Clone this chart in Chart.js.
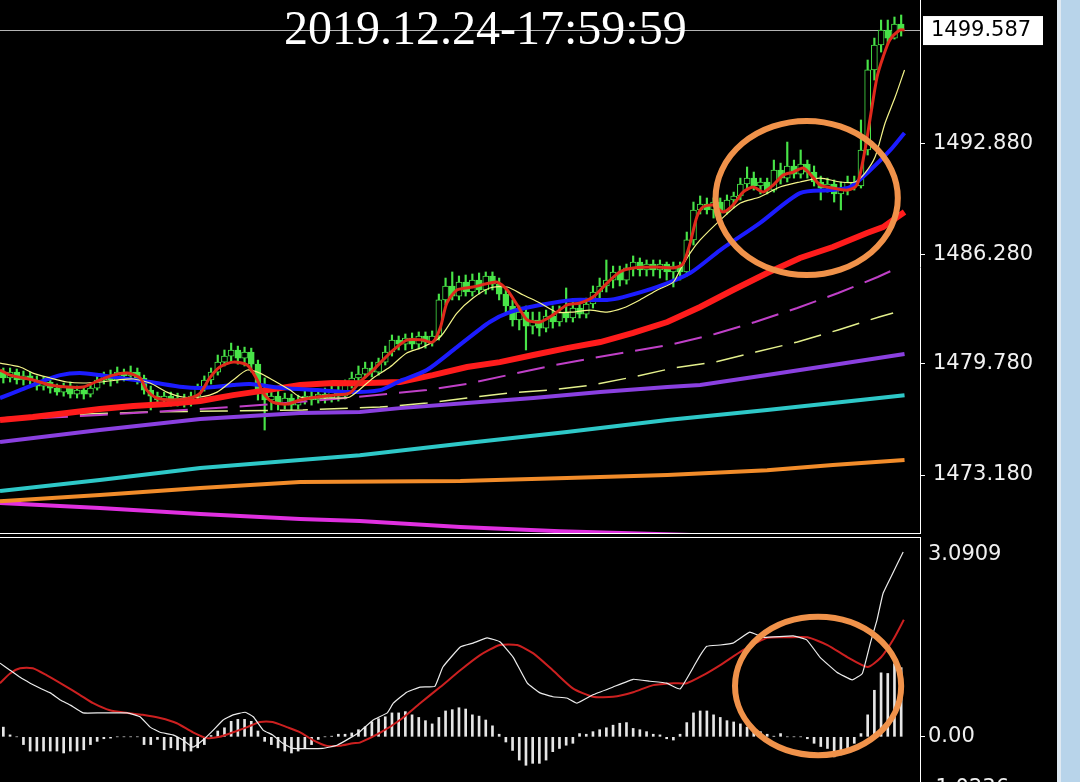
<!DOCTYPE html>
<html>
<head>
<meta charset="utf-8">
<script src="https://cdn.jsdelivr.net/npm/chart.js@4.4.1/dist/chart.umd.min.js"></script>
<style>
html, body { margin:0; padding:0; background:#000; width:1080px; height:782px; overflow:hidden; }
#top { position:absolute; left:0; top:0; }
#bottom { position:absolute; left:0; top:537px; }
#scroll { position:absolute; left:1057px; top:0; width:23px; height:782px; background:#b8d4ea; border-left:4px solid #dfe9f2; box-sizing:border-box; }
</style>
</head>
<body>
<canvas id="top" width="1057" height="534"></canvas>
<canvas id="bottom" width="1057" height="266"></canvas>
<div id="scroll"></div>
<script>
var titleText = '2019.12.24-17:59:59';
var priceTicks = [1473.18, 1479.78, 1486.28, 1492.88];
var macdTicks = [3.0909, 0, -1.0236];

// candles, one per bar (bar index 0..134)
var opens = [1479.29,1478.94,1479.29,1478.82,1479.06,1478.82,1478.46,1478.70,1478.34,1478.10,
  1478.46,1477.98,1478.22,1477.98,1478.34,1478.82,1479.06,1478.82,1479.29,1479.06,
  1479.29,1478.94,1478.22,1477.86,1477.63,1477.86,1477.51,1477.75,1477.45,1477.86,
  1478.34,1478.82,1479.29,1479.88,1480.24,1480.60,1480.12,1480.48,1479.76,1478.10,
  1477.63,1477.86,1477.39,1477.75,1477.33,1477.63,1477.86,1477.63,1477.98,1477.75,
  1478.10,1477.86,1478.52,1478.94,1479.17,1479.53,1479.29,1479.88,1480.48,1481.19,
  1480.95,1481.31,1480.95,1481.43,1481.07,1481.43,1483.57,1484.40,1483.80,1484.63,
  1484.04,1484.75,1484.16,1484.99,1484.51,1483.92,1483.21,1482.38,1482.85,1482.02,
  1482.38,1481.90,1482.61,1482.26,1482.85,1482.50,1483.09,1482.73,1483.33,1484.04,
  1484.40,1484.75,1485.23,1484.75,1485.47,1485.82,1485.35,1485.70,1485.35,1485.70,
  1485.23,1485.58,1485.23,1487.13,1488.91,1489.26,1488.91,1489.38,1488.79,1489.50,
  1489.74,1490.45,1490.80,1490.33,1490.57,1490.09,1491.28,1490.80,1491.52,1491.04,
  1491.63,1491.16,1490.57,1490.21,1490.45,1489.86,1490.21,1490.57,1490.33,1492.47,
  1497.22,1498.70,1499.59,1499.11,1499.94];
var closes = [1478.94,1479.29,1478.82,1479.06,1478.82,1478.46,1478.70,1478.34,1478.10,1478.46,
  1477.98,1478.22,1477.98,1478.34,1478.82,1479.06,1478.82,1479.29,1479.06,1479.29,
  1478.94,1478.22,1477.86,1477.63,1477.86,1477.51,1477.75,1477.45,1477.86,1478.34,
  1478.82,1479.29,1479.88,1480.24,1480.60,1480.12,1480.48,1479.76,1478.10,1477.63,
  1477.86,1477.39,1477.75,1477.33,1477.63,1477.86,1477.63,1477.98,1477.75,1478.10,
  1477.86,1478.52,1478.94,1479.17,1479.53,1479.29,1479.88,1480.48,1481.19,1480.95,
  1481.31,1480.95,1481.43,1481.07,1481.43,1483.57,1484.40,1483.80,1484.63,1484.04,
  1484.75,1484.16,1484.99,1484.51,1483.92,1483.21,1482.38,1482.85,1482.02,1482.38,
  1481.90,1482.61,1482.26,1482.85,1482.50,1483.09,1482.73,1483.33,1484.04,1484.40,
  1484.75,1485.23,1484.75,1485.47,1485.82,1485.35,1485.70,1485.35,1485.70,1485.23,
  1485.58,1485.23,1487.13,1488.91,1489.26,1488.91,1489.38,1488.79,1489.50,1489.74,
  1490.45,1490.80,1490.33,1490.57,1490.09,1491.28,1490.80,1491.52,1491.04,1491.63,
  1491.16,1490.57,1490.21,1490.45,1489.86,1490.21,1490.57,1490.33,1492.47,1497.22,
  1498.70,1499.59,1499.11,1499.94,1499.587];
var highs = [1479.53,1479.53,1479.47,1479.35,1479.29,1479.06,1479.00,1478.88,1478.58,1478.64,
  1478.70,1478.46,1478.40,1478.52,1479.06,1479.29,1479.41,1479.59,1479.47,1479.65,
  1479.53,1479.11,1478.46,1478.10,1478.10,1478.10,1478.04,1477.98,1478.10,1478.58,
  1479.06,1479.53,1480.30,1480.60,1481.01,1480.83,1480.77,1480.71,1480.00,1478.94,
  1478.22,1478.16,1478.04,1477.98,1477.92,1478.22,1478.22,1478.28,1478.34,1478.46,
  1478.46,1478.82,1479.29,1479.65,1479.88,1479.88,1480.12,1480.83,1481.49,1481.43,
  1481.55,1481.61,1481.67,1481.67,1481.73,1483.92,1484.87,1485.23,1484.99,1485.05,
  1485.11,1485.17,1485.23,1485.23,1484.87,1484.28,1483.57,1483.21,1483.21,1482.85,
  1482.85,1482.97,1483.21,1483.21,1484.28,1483.45,1483.45,1483.68,1484.40,1484.87,
  1485.94,1485.58,1485.58,1485.70,1486.18,1486.06,1485.94,1485.94,1485.94,1485.82,
  1485.82,1485.82,1487.60,1489.38,1489.74,1489.62,1489.62,1489.62,1489.80,1489.97,
  1490.80,1491.46,1491.16,1490.80,1490.80,1491.87,1491.69,1492.94,1491.87,1492.47,
  1491.87,1491.52,1490.92,1490.80,1490.69,1490.57,1490.92,1490.92,1494.25,1497.81,
  1499.11,1500.18,1500.18,1500.36,1500.48];
var lows = [1478.64,1478.70,1478.58,1478.52,1478.58,1478.22,1478.22,1478.04,1477.92,1477.86,
  1477.75,1477.75,1477.69,1477.81,1478.22,1478.58,1478.46,1478.64,1478.76,1478.82,
  1478.58,1477.98,1477.04,1477.39,1477.39,1477.27,1477.27,1477.21,1477.27,1477.69,
  1478.16,1478.58,1479.11,1479.65,1479.88,1479.76,1479.65,1479.29,1477.63,1475.85,
  1477.04,1477.04,1477.10,1477.04,1477.10,1477.39,1477.33,1477.45,1477.45,1477.51,
  1477.57,1477.69,1478.34,1478.70,1478.94,1479.00,1479.11,1479.71,1480.24,1480.60,
  1480.60,1480.66,1480.66,1480.71,1480.83,1481.19,1483.27,1483.57,1483.57,1483.80,
  1483.80,1483.92,1483.92,1484.16,1483.57,1482.85,1482.02,1481.79,1480.60,1481.55,
  1481.43,1481.67,1481.90,1482.02,1482.26,1482.26,1482.50,1482.50,1483.09,1483.57,
  1484.04,1484.28,1484.40,1484.51,1484.99,1484.99,1484.99,1484.99,1484.87,1484.75,
  1484.34,1484.75,1484.99,1486.83,1488.67,1488.67,1488.43,1488.43,1488.67,1489.03,
  1489.50,1490.09,1490.09,1489.86,1489.86,1489.97,1490.45,1490.57,1490.80,1490.80,
  1490.80,1490.33,1489.50,1489.97,1489.38,1488.91,1489.80,1490.09,1490.21,1492.17,
  1496.62,1498.28,1498.76,1499.05,1499.23];

// moving averages as [bar index, price]
var fastRedMA = [[-0.5,1479.41],[1,1479.11],[4.4,1478.82],[7,1478.52],[9.5,1478.40],[11.9,1478.40],[14.4,1478.82],[16.4,1479.11],[18.5,1479.23],[20.4,1478.94],[21.4,1478.22],[22.9,1477.75],[25.3,1477.63],[27.9,1477.75],[29.4,1478.04],[30.8,1478.94],[32.3,1479.59],[34.3,1479.88],[36.4,1479.71],[37.9,1478.82],[38.8,1478.04],[40.2,1477.51],[42.3,1477.39],[44.3,1477.63],[46.8,1477.81],[49.2,1477.92],[51.7,1478.04],[53.2,1478.70],[55.2,1479.41],[57.7,1480.42],[60.2,1481.19],[62.6,1481.19],[64.1,1481.07],[65.2,1481.90],[66.2,1483.39],[67.7,1484.16],[70.1,1484.34],[72.6,1484.57],[73.7,1484.63],[75.2,1484.16],[76.7,1483.27],[78.2,1482.38],[80.1,1482.26],[82,1482.67],[84.1,1483.27],[86.1,1483.39],[88,1483.74],[90.1,1484.57],[92,1485.23],[94,1485.47],[97.6,1485.52],[100,1485.47],[101.4,1485.70],[102.5,1486.94],[103.5,1488.49],[104.4,1489.08],[105.9,1489.20],[107.4,1488.79],[108.9,1489.20],[110.4,1489.97],[111.9,1490.27],[113.4,1489.97],[114.9,1490.39],[116.4,1490.98],[117.9,1491.16],[119.4,1491.40],[120.8,1490.86],[121.9,1490.39],[123.8,1490.21],[126,1490.09],[127.4,1490.39],[128.6,1492.47],[129.4,1494.42],[130.4,1496.80],[131.3,1497.99],[132.3,1499.00],[133.8,1499.59],[134.5,1499.59]];
var yellowMA = [[-0.5,1479.82],[2.5,1479.59],[4.4,1479.23],[7,1478.94],[9.5,1478.70],[11.9,1478.64],[14.4,1478.70],[17,1478.82],[19.4,1478.88],[21.9,1478.64],[24.4,1478.10],[26.8,1477.81],[29.4,1477.81],[31.9,1478.10],[34.3,1478.82],[36.4,1479.41],[38.3,1479.23],[40.2,1478.82],[42.8,1478.22],[44.3,1477.81],[46.8,1477.75],[49.2,1477.75],[51.7,1477.81],[55.2,1478.94],[57.7,1479.59],[60.2,1480.42],[62.6,1480.77],[65.2,1481.37],[67.7,1482.79],[70.1,1483.68],[72.6,1484.28],[75.2,1484.34],[77.6,1483.86],[80.1,1483.39],[82.6,1482.85],[85,1482.85],[87.6,1482.97],[90.1,1482.85],[92.5,1483.09],[95,1483.57],[97.6,1484.16],[100,1484.63],[101,1485.35],[102.5,1486.35],[104,1487.13],[107,1488.31],[110,1489.32],[112.9,1489.68],[115.9,1490.27],[118.9,1490.57],[121.9,1490.80],[124.9,1490.57],[127.1,1490.57],[128.6,1491.10],[130.1,1492.05],[131.6,1494.07],[133.1,1495.61],[134.5,1497.22]];
var blueMA = [[-0.5,1477.75],[2.5,1478.22],[5.5,1478.70],[8.5,1479.11],[11.4,1479.23],[14.4,1479.11],[17.4,1478.94],[21.9,1478.70],[26.8,1478.40],[29.4,1478.34],[34.3,1478.52],[36.8,1478.58],[41.7,1478.34],[46.8,1478.22],[51.7,1478.10],[56.2,1478.22],[59.2,1478.76],[63.2,1479.41],[67.7,1480.77],[72.6,1482.26],[75.6,1482.85],[80.1,1483.27],[85,1483.57],[90.1,1483.57],[92.5,1483.74],[97.6,1484.34],[102.5,1485.17],[107,1486.53],[112.9,1488.13],[118.9,1489.91],[123.4,1490.09],[126.4,1490.27],[129.4,1491.28],[132.4,1492.47],[134.5,1493.48]];
var redSlowMA = [[-0.5,1476.44],[4.4,1476.62],[9.5,1476.86],[14.4,1477.10],[19.4,1477.27],[24.4,1477.39],[29.4,1477.57],[34.3,1477.92],[39.4,1478.22],[44.3,1478.52],[49.2,1478.64],[53.2,1478.62],[59.2,1478.70],[64.1,1479.11],[69.2,1479.59],[74.1,1479.88],[79.1,1480.30],[84.1,1480.71],[89.1,1481.07],[94,1481.61],[99.1,1482.26],[104,1483.15],[108.9,1484.16],[114,1485.17],[118.9,1486.06],[123.8,1486.71],[128.9,1487.54],[131.3,1487.89],[134.5,1488.79]];
var magentaDashMA = [[-0.5,1476.44],[14.4,1476.74],[29.4,1477.10],[38.3,1477.33],[51,1477.75],[63.2,1478.22],[69.2,1478.58],[75.3,1479.11],[81.6,1479.65],[87.9,1480.12],[94,1480.54],[100,1480.95],[106.2,1481.55],[112.2,1482.26],[118.5,1483.09],[124.6,1483.98],[130.5,1484.93],[132.8,1485.35]];
var paleDashMA = [[-0.5,1476.56],[7.7,1476.74],[21.4,1476.92],[32.8,1476.98],[44.7,1477.04],[56.2,1477.21],[63.2,1477.45],[69.2,1477.75],[75.3,1478.04],[81.6,1478.22],[87.9,1478.52],[94,1479.00],[100,1479.53],[106.2,1479.88],[112.3,1480.48],[118.5,1481.07],[124.6,1481.79],[130.7,1482.56],[132.8,1482.79]];
var purpleMA = [[-0.5,1475.14],[14.4,1475.85],[29.4,1476.50],[44.3,1476.86],[53.2,1476.92],[59.2,1477.15],[69.2,1477.45],[79.1,1477.75],[89.1,1478.10],[99.1,1478.40],[104,1478.52],[114,1479.11],[123.8,1479.71],[134.5,1480.36]];
var cyanMA = [[-0.5,1472.23],[14.4,1472.88],[29.4,1473.59],[44.3,1474.07],[53.2,1474.36],[69.2,1475.08],[84.1,1475.73],[99.1,1476.44],[114,1477.04],[123.8,1477.45],[134.5,1477.92]];
var orangeMA = [[-0.5,1471.63],[14.4,1471.99],[29.4,1472.41],[44.3,1472.76],[68.2,1472.82],[84.1,1473.00],[99.1,1473.18],[114,1473.47],[123.8,1473.77],[134.5,1474.07]];
var magentaMA = [[-0.5,1471.52],[14.4,1471.22],[29.4,1470.86],[44.3,1470.57],[53.2,1470.45],[68.2,1470.09],[83.1,1469.85],[104,1469.60]];

// MACD panel
var histVals = [0.15,0.03,0.00,-0.12,-0.22,-0.22,-0.22,-0.22,-0.22,-0.25,
  -0.22,-0.22,-0.20,-0.12,-0.07,-0.03,-0.02,0.00,0.00,0.00,
  0.00,-0.12,-0.12,-0.04,-0.20,-0.17,-0.20,-0.22,-0.22,-0.17,
  -0.12,0.02,0.09,0.14,0.24,0.27,0.27,0.24,0.09,-0.07,
  -0.12,-0.17,-0.22,-0.25,-0.22,-0.17,-0.12,-0.04,0.00,0.01,
  0.04,0.04,0.06,0.11,0.155,0.23,0.28,0.31,0.37,0.37,
  0.39,0.34,0.30,0.25,0.20,0.30,0.40,0.42,0.45,0.43,
  0.34,0.32,0.26,0.17,0.04,-0.08,-0.21,-0.36,-0.44,-0.41,
  -0.41,-0.36,-0.23,-0.18,-0.13,-0.10,0.05,0.04,0.08,0.11,
  0.14,0.18,0.21,0.22,0.13,0.11,0.08,0.04,0.03,-0.03,
  -0.05,0.04,0.22,0.37,0.40,0.40,0.34,0.30,0.25,0.23,
  0.20,0.15,0.10,0.08,0.04,0.01,0.05,0.00,0.00,0.00,
  -0.03,-0.10,-0.15,-0.18,-0.31,-0.28,-0.21,-0.10,0.05,0.34,
  0.72,0.99,0.98,1.13,1.07];
var macdLine = [[-0.5,1.14],[1,1.03],[2.5,0.92],[4,0.83],[5.5,0.75],[7,0.68],[8.5,0.57],[10,0.49],[11.9,0.37],[14.4,0.37],[18.5,0.37],[20.4,0.31],[21.9,0.15],[23.4,0.07],[25.3,0.03],[26.8,-0.05],[28.3,-0.16],[29.8,-0.05],[31.3,0.10],[32.8,0.26],[34.3,0.34],[36.1,0.38],[37.3,0.31],[38.8,0.10],[40.2,0.03],[41.7,-0.10],[43.2,-0.18],[47.7,-0.18],[49.8,-0.13],[51.7,-0.02],[53.2,0.08],[55.2,0.26],[57.3,0.37],[58.2,0.52],[60.2,0.69],[62.2,0.77],[64.4,0.78],[65.6,1.08],[68.2,1.39],[70.1,1.45],[72.2,1.53],[74.1,1.47],[76.1,1.23],[78.2,0.83],[80.1,0.68],[82,0.62],[84.1,0.60],[85.6,0.52],[88,0.65],[91,0.77],[94,0.89],[96.5,0.86],[99,0.83],[101,0.74],[103,1.08],[104,1.26],[105,1.40],[107,1.42],[108.9,1.45],[111.4,1.62],[113.4,1.54],[117.9,1.56],[119.9,1.50],[121.9,1.23],[124.4,1.00],[126.7,0.88],[128.2,0.98],[129.4,1.45],[130.4,1.81],[131.3,2.22],[132.6,2.50],[134.3,2.86]];
var signalLine = [[-0.5,0.83],[1,0.98],[2.5,1.06],[4.4,1.06],[6.5,0.95],[9,0.80],[11.4,0.65],[13.4,0.52],[15.9,0.41],[18.5,0.37],[20.8,0.34],[23.4,0.29],[25.9,0.21],[28.3,0.07],[30.4,-0.02],[32.3,0.00],[34.3,0.07],[36.4,0.15],[38.3,0.23],[40.2,0.23],[42.3,0.15],[44.3,0.07],[46.2,-0.05],[48.3,-0.14],[50.2,-0.14],[52.2,-0.10],[53.2,-0.09],[56.2,0.06],[59.2,0.26],[62.2,0.52],[65.2,0.77],[68.2,1.03],[71.1,1.26],[74.1,1.42],[76.7,1.42],[79.1,1.29],[82,1.03],[85,0.75],[88,0.62],[91,0.62],[94,0.69],[97,0.80],[100,0.83],[102,0.83],[104.4,0.95],[107,1.11],[110.4,1.34],[114,1.53],[117,1.54],[120,1.54],[123,1.42],[126,1.23],[129,1.08],[131,1.23],[132.8,1.50],[134.4,1.81]];

// hand-drawn orange circles: centre (bar, value) and radii (bars, value units)
var topCircle = [119.9, 1489.62, 13.6, 4.57];
var macdCircle = [121.6, 0.786, 12.4, 1.07];

var green = '#48e448';
var lastPrice = closes[closes.length - 1];

function pts(arr) {
    return arr.map(function (p) { return {x: p[0], y: p[1]}; });
}
function lineDs(arr, color, width, order, extra) {
    var ds = {type: 'line', data: pts(arr), borderColor: color, borderWidth: width,
        pointRadius: 0, fill: false, tension: 0.25, order: order};
    return Object.assign(ds, extra || {});
}
function drawCircle(chart, c) {
    var x = chart.scales.x, y = chart.scales.y, ctx = chart.ctx;
    var cx = x.getPixelForValue(c[0]), cy = y.getPixelForValue(c[1]);
    var rx = x.getPixelForValue(c[0] + c[2]) - cx;
    var ry = cy - y.getPixelForValue(c[1] + c[3]);
    ctx.save();
    ctx.strokeStyle = '#f0924a';
    ctx.lineWidth = 6;
    ctx.beginPath();
    ctx.ellipse(cx, cy, rx, ry, 0, 0, Math.PI * 2);
    ctx.stroke();
    ctx.restore();
}

var topDecor = {
    id: 'topDecor',
    beforeDatasetsDraw: function (chart) {
        var ctx = chart.ctx, a = chart.chartArea;
        var py = Math.round(chart.scales.y.getPixelForValue(lastPrice)) + 0.5;
        ctx.save();
        ctx.strokeStyle = '#b4b4b4';
        ctx.lineWidth = 1;
        ctx.beginPath(); ctx.moveTo(a.left, py); ctx.lineTo(a.right, py); ctx.stroke();
        ctx.font = '48px "Liberation Serif"';
        ctx.fillStyle = '#ffffff';
        ctx.textBaseline = 'alphabetic';
        ctx.fillText(titleText, 284, 44);
        ctx.restore();
    },
    afterDatasetsDraw: function (chart) {
        var ctx = chart.ctx, a = chart.chartArea;
        drawCircle(chart, topCircle);
        ctx.save();
        ctx.strokeStyle = '#ffffff';
        ctx.lineWidth = 1;
        ctx.beginPath(); ctx.moveTo(a.left, a.bottom - 0.5); ctx.lineTo(a.right, a.bottom - 0.5); ctx.stroke();
        ctx.restore();
    },
    afterDraw: function (chart) {
        var ctx = chart.ctx, a = chart.chartArea;
        var py = chart.scales.y.getPixelForValue(lastPrice);
        ctx.save();
        ctx.fillStyle = '#ffffff';
        ctx.fillRect(a.right + 3, py - 14, 120, 29);
        ctx.fillStyle = '#000000';
        ctx.font = '21px "DejaVu Sans"';
        ctx.textBaseline = 'middle';
        ctx.fillText(lastPrice.toFixed(3), a.right + 11, py + 1);
        ctx.restore();
    }
};

var macdDecor = {
    id: 'macdDecor',
    afterDatasetsDraw: function (chart) {
        var ctx = chart.ctx, a = chart.chartArea;
        drawCircle(chart, macdCircle);
        ctx.save();
        ctx.strokeStyle = '#ffffff';
        ctx.lineWidth = 1;
        ctx.beginPath(); ctx.moveTo(a.left, a.top + 0.5); ctx.lineTo(a.right, a.top + 0.5); ctx.stroke();
        ctx.restore();
    },
    afterDraw: function (chart) {
        var ctx = chart.ctx, a = chart.chartArea, y = chart.scales.y;
        ctx.save();
        ctx.fillStyle = '#f0f0f0';
        ctx.font = '21px "DejaVu Sans"';
        ctx.textBaseline = 'middle';
        macdTicks.forEach(function (v) {
            var py = Math.min(Math.max(y.getPixelForValue(v), a.top + 18), a.bottom - 14);
            ctx.fillText(v === 0 ? '0.00' : String(v), a.right + 8, py);
        });
        ctx.restore();
    }
};

var idx = closes.map(function (c, i) { return i; });

var baseOptions = function (yScale) {
    return {
        responsive: false,
        animation: false,
        events: [],
        devicePixelRatio: 1,
        layout: {padding: 0},
        plugins: {legend: {display: false}, tooltip: {enabled: false}},
        scales: {
            x: {type: 'linear', min: -0.5, max: 136.81, display: false, offset: false},
            y: yScale
        }
    };
};

new Chart(document.getElementById('top'), {
    type: 'bar',
    data: {
        datasets: [
            lineDs(fastRedMA, '#e02a1c', 3, 1),
            lineDs(yellowMA, '#f4f48a', 1.2, 2),
            lineDs(blueMA, '#1c1cff', 4, 3),
            lineDs(redSlowMA, '#ff1c1c', 6, 4, {tension: 0}),
            lineDs(magentaDashMA, '#c040c8', 2, 5, {borderDash: [28, 12], tension: 0}),
            lineDs(paleDashMA, '#e4f08c', 1.5, 6, {borderDash: [28, 12], tension: 0}),
            lineDs(purpleMA, '#8a40e0', 4, 7, {tension: 0}),
            lineDs(cyanMA, '#2ec8c8', 4, 8, {tension: 0}),
            lineDs(orangeMA, '#f28c2a', 4, 9, {tension: 0}),
            lineDs(magentaMA, '#e030e0', 4, 10, {tension: 0}),
            {
                type: 'bar', order: 19, grouped: false, barThickness: 6, minBarLength: 2,
                data: idx.map(function (i) { return {x: i, y: [opens[i], closes[i]]}; }),
                borderColor: green, borderWidth: 1, borderSkipped: false,
                backgroundColor: function (c) { return closes[c.dataIndex] >= opens[c.dataIndex] ? '#000000' : green; }
            },
            {
                type: 'bar', order: 20, grouped: false, barThickness: 1.5,
                data: idx.map(function (i) { return {x: i, y: [lows[i], highs[i]]}; }),
                backgroundColor: green, borderWidth: 0
            }
        ]
    },
    options: baseOptions({
        position: 'right', min: 1469.68, max: 1501.37,
        afterBuildTicks: function (s) { s.ticks = priceTicks.map(function (v) { return {value: v}; }); },
        afterFit: function (s) { s.width = 137; s.paddingTop = 0; s.paddingBottom = 0; },
        ticks: {color: '#f2f2f2', font: {family: 'DejaVu Sans', size: 21}, padding: 8, autoSkip: false,
            callback: function (v) { return Number(v).toFixed(3); }},
        grid: {drawOnChartArea: false, color: '#ffffff', tickLength: 5},
        border: {color: '#ffffff', width: 1}
    }),
    plugins: [topDecor]
});

new Chart(document.getElementById('bottom'), {
    type: 'bar',
    data: {
        datasets: [
            lineDs(signalLine, '#cc2020', 2, 2, {tension: 0.2}),
            lineDs(macdLine, '#ececec', 1.2, 1, {tension: 0.1}),
            {
                type: 'bar', order: 5, grouped: false, barThickness: 2,
                data: histVals.map(function (v, i) { return {x: i, y: v}; }),
                backgroundColor: '#e6e6e6', borderWidth: 0
            }
        ]
    },
    options: baseOptions({
        position: 'right', min: -1.0236, max: 3.0909,
        afterBuildTicks: function (s) { s.ticks = [{value: 0}]; },
        afterFit: function (s) { s.width = 137; s.paddingTop = 0; s.paddingBottom = 0; },
        ticks: {display: false},
        grid: {drawOnChartArea: false, color: '#ffffff', tickLength: 5},
        border: {color: '#ffffff', width: 1}
    }),
    plugins: [macdDecor]
});
</script>
</body>
</html>
